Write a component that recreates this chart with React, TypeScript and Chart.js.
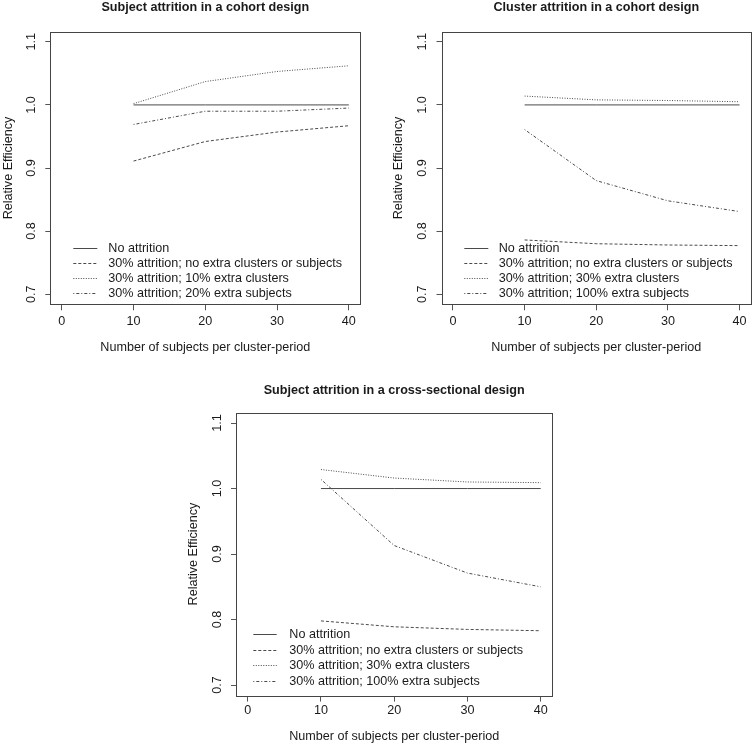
import React, { useEffect, useRef } from "react";
import { Chart, registerables } from "chart.js";
Chart.register(...registerables);

const FONT = "'Liberation Sans', Arial, Helvetica, sans-serif";
const FS = 12.6;
const TEXT = "#1a1a1a";
const LINE = "#4a4a4a";

// ---- data ----
const xTicks = [0, 10, 20, 30, 40];
const yTicks = [0.7, 0.8, 0.9, 1.0, 1.1];
const subjectsPerClusterPeriod = [10, 20, 30, 40];

const xTitle = "Number of subjects per cluster-period";
const yTitle = "Relative Efficiency";

const title1 = "Subject attrition in a cohort design";
const labels1 = [
  "No attrition",
  "30% attrition; no extra clusters or subjects",
  "30% attrition; 10% extra clusters",
  "30% attrition; 20% extra subjects",
];
const p1NoAttrition = [1.0, 1.0, 1.0, 1.0];
const p1NoExtra = [0.911, 0.942, 0.957, 0.967];
const p1ExtraClusters = [1.002, 1.037, 1.053, 1.062];
const p1ExtraSubjects = [0.969, 0.99, 0.99, 0.995];

const title2 = "Cluster attrition in a cohort design";
const labels2 = [
  "No attrition",
  "30% attrition; no extra clusters or subjects",
  "30% attrition; 30% extra clusters",
  "30% attrition; 100% extra subjects",
];
const p2NoAttrition = [1.0, 1.0, 1.0, 1.0];
const p2NoExtra = [0.786, 0.78, 0.778, 0.777];
const p2ExtraClusters = [1.014, 1.008, 1.007, 1.005];
const p2ExtraSubjects = [0.961, 0.88, 0.848, 0.831];

const title3 = "Subject attrition in a cross-sectional design";
const labels3 = [
  "No attrition",
  "30% attrition; no extra clusters or subjects",
  "30% attrition; 30% extra clusters",
  "30% attrition; 100% extra subjects",
];
const p3NoAttrition = [1.0, 1.0, 1.0, 1.0];
const p3NoExtra = [0.798, 0.789, 0.785, 0.783];
const p3ExtraClusters = [1.029, 1.016, 1.01, 1.009];
const p3ExtraSubjects = [1.014, 0.913, 0.871, 0.85];

const DASHES = [[], [3, 2], [1, 1.5], [1, 2, 3, 2]];

type Layout = {
  left: number; top: number; w: number; h: number;
  padLeft: number; padRight: number;
  yWidth: number; xHeight: number;
  titleTop: number; titleBottom: number;
  yTitlePad: number; yTickPad: number;
  xTickPad: number; xTitlePadBottom: number;
  legLine: number; legLen: number; legText: number; legBottom: number; legStep: number;
};

type PanelCfg = { title: string; labels: string[]; series: number[][]; layout: Layout };

const panels: PanelCfg[] = [
  {
    title: title1, labels: labels1,
    series: [p1NoAttrition, p1NoExtra, p1ExtraClusters, p1ExtraSubjects],
    layout: {
      left: 0, top: 0, w: 377, h: 375, padLeft: 0, padRight: 16.7,
      yWidth: 50.3, xHeight: 70.7, titleTop: 0, titleBottom: 16.6,
      yTitlePad: 0.7, yTickPad: 4.8, xTickPad: 4.1, xTitlePadBottom: 20.4,
      legLine: 23, legLen: 24, legText: 58, legBottom: 11, legStep: 15.2,
    },
  },
  {
    title: title2, labels: labels2,
    series: [p2NoAttrition, p2NoExtra, p2ExtraClusters, p2ExtraSubjects],
    layout: {
      left: 377, top: 0, w: 377, h: 375, padLeft: 13.5, padRight: 3,
      yWidth: 51, xHeight: 70.7, titleTop: 0, titleBottom: 16.6,
      yTitlePad: 0.6, yTickPad: 5.5, xTickPad: 4.1, xTitlePadBottom: 20.4,
      legLine: 22.8, legLen: 24, legText: 57.2, legBottom: 11, legStep: 15.2,
    },
  },
  {
    title: title3, labels: labels3,
    series: [p3NoAttrition, p3NoExtra, p3ExtraClusters, p3ExtraSubjects],
    layout: {
      left: 180, top: 375, w: 380, h: 375, padLeft: 5.8, padRight: 7.6,
      yWidth: 50.2, xHeight: 54.4, titleTop: 8.4, titleBottom: 14,
      yTitlePad: 0.6, yTickPad: 4.5, xTickPad: 0.9, xTitlePadBottom: 6.4,
      legLine: 17.3, legLen: 23.4, legText: 53.3, legBottom: 14.9, legStep: 15.5,
    },
  },
];

function Panel({ cfg }: { cfg: PanelCfg }) {
  const ref = useRef<HTMLCanvasElement>(null);
  useEffect(() => {
    const L = cfg.layout;
    const boxPlugin = {
      id: "plotBox",
      afterDatasetsDraw(chart: any) {
        const { ctx, chartArea: a } = chart;
        ctx.save();
        ctx.strokeStyle = "#444";
        ctx.lineWidth = 1;
        ctx.setLineDash([]);
        const l = Math.round(a.left) + 0.5, t = Math.round(a.top) + 0.5;
        const r = Math.round(a.right) + 0.5, b = Math.round(a.bottom) + 0.5;
        ctx.strokeRect(l, t, r - l, b - t);
        ctx.restore();
      },
    };
    const legendPlugin = {
      id: "insetLegend",
      afterDraw(chart: any) {
        const { ctx, chartArea: a } = chart;
        const ds = chart.data.datasets;
        ctx.save();
        ctx.font = `${FS}px ${FONT}`;
        ctx.textBaseline = "middle";
        ctx.textAlign = "left";
        ds.forEach((d: any, i: number) => {
          const y = Math.round(a.bottom - L.legBottom - (ds.length - 1 - i) * L.legStep) + 0.5;
          const x0 = a.left + L.legLine;
          ctx.strokeStyle = d.borderColor;
          ctx.lineWidth = 1;
          ctx.setLineDash(d.borderDash || []);
          ctx.beginPath();
          ctx.moveTo(x0, y);
          ctx.lineTo(x0 + L.legLen, y);
          ctx.stroke();
          ctx.setLineDash([]);
          ctx.fillStyle = TEXT;
          ctx.fillText(d.label, a.left + L.legText, y);
        });
        ctx.restore();
      },
    };
    const chart = new Chart(ref.current!, {
      type: "line",
      data: {
        datasets: cfg.series.map((ys, i) => ({
          label: cfg.labels[i],
          data: subjectsPerClusterPeriod.map((x, j) => ({ x, y: ys[j] })),
          borderColor: LINE,
          borderWidth: 1,
          borderDash: DASHES[i],
          pointRadius: 0,
          fill: false,
          tension: 0,
        })),
      },
      options: {
        animation: false,
        responsive: false,
        maintainAspectRatio: false,
        layout: { padding: { left: L.padLeft, right: L.padRight, top: 0, bottom: 0 } },
        plugins: {
          legend: { display: false },
          tooltip: { enabled: false },
          title: {
            display: true,
            text: cfg.title,
            fullSize: false,
            color: TEXT,
            font: { family: FONT, size: FS, weight: "bold", lineHeight: 1.2 },
            padding: { top: L.titleTop, bottom: L.titleBottom },
          },
        },
        scales: {
          x: {
            type: "linear",
            min: -1.6,
            max: 41.6,
            afterBuildTicks: (s: any) => { s.ticks = xTicks.map((v) => ({ value: v })); },
            afterFit: (s: any) => { s.height = L.xHeight; },
            grid: { display: true, drawOnChartArea: false, drawTicks: true, tickLength: 6, color: "#555" },
            border: { display: false },
            ticks: { color: TEXT, font: { family: FONT, size: FS }, padding: L.xTickPad, maxRotation: 0, autoSkip: false },
            title: {
              display: true, text: xTitle, color: TEXT,
              font: { family: FONT, size: FS, lineHeight: 1.2 },
              padding: { top: 0, bottom: L.xTitlePadBottom },
            },
          },
          y: {
            type: "linear",
            min: 0.684,
            max: 1.116,
            afterBuildTicks: (s: any) => { s.ticks = yTicks.map((v) => ({ value: v })); },
            afterFit: (s: any) => { s.width = L.yWidth; },
            grid: { display: true, drawOnChartArea: false, drawTicks: true, tickLength: 5, color: "#555" },
            border: { display: false },
            ticks: {
              color: TEXT, font: { family: FONT, size: FS }, padding: L.yTickPad,
              minRotation: 90, maxRotation: 90, crossAlign: "center", autoSkip: false,
              callback: (v: any) => Number(v).toFixed(1),
            },
            title: {
              display: true, text: yTitle, color: TEXT,
              font: { family: FONT, size: FS, lineHeight: 1.2 },
              padding: { top: L.yTitlePad, bottom: 0 },
            },
          },
        },
      } as any,
      plugins: [boxPlugin, legendPlugin],
    });
    return () => chart.destroy();
  }, [cfg]);
  const L = cfg.layout;
  return (
    <canvas
      ref={ref}
      width={L.w}
      height={L.h}
      style={{ position: "absolute", left: L.left, top: L.top, width: L.w, height: L.h }}
    />
  );
}

export default function App() {
  return (
    <div style={{ position: "absolute", left: 0, top: 0, width: 754, height: 750, background: "#fff" }}>
      {panels.map((p, i) => (
        <Panel key={i} cfg={p} />
      ))}
    </div>
  );
}
